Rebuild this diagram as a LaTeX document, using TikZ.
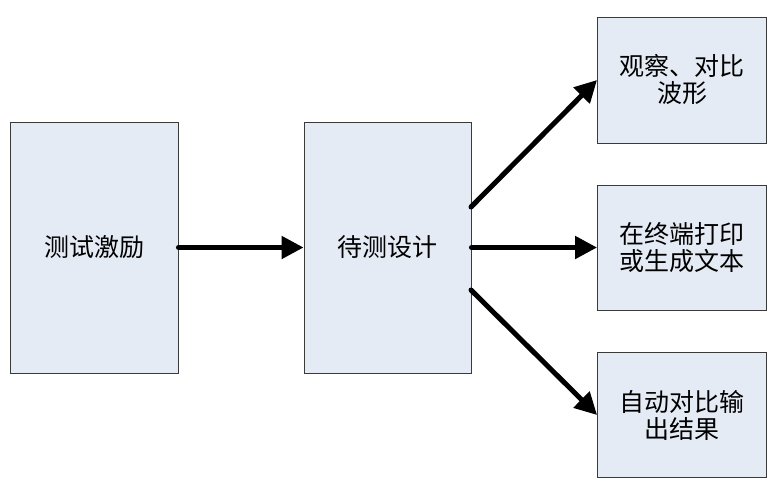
\documentclass[tikz,border=0pt]{standalone}
\usepackage{fontspec}
\setmainfont{Noto Sans CJK SC}
\usetikzlibrary{positioning,arrows.meta}
\definecolor{boxfill}{HTML}{E5EBF5}
\definecolor{boxline}{HTML}{3A3A3A}

\begin{document}
\begin{tikzpicture}[x=1pt,y=-1pt,>={Triangle[length=22pt,width=22pt]},
  blk/.style={draw=boxline,line width=0.9pt,fill=boxfill,inner sep=0pt,align=center,
    font=\fontsize{25}{27}\selectfont},
  flow/.style={->,line width=5pt,line cap=round}]
  \useasboundingbox (0,0) rectangle (770,498);
  % left column
  \node[blk,minimum width=168pt,minimum height=251pt] (stim) at (94,247.5) {测试激励};
  \node[blk,minimum width=167pt,minimum height=251pt] (dut) at (387.5,247.5) {待测设计};
  % right column
  \node[blk,minimum width=169pt,minimum height=126pt] (wave) at (682,80) {观察、对比\\波形};
  \node[blk,minimum width=169pt,minimum height=125pt] (print) at (682,247.5) {在终端打印\\或生成文本};
  \node[blk,minimum width=169pt,minimum height=125pt] (cmp) at (682,415) {自动对比输\\出结果};
  \coordinate (dutup) at (471,207);
  \coordinate (dutdn) at (471,290);
  \draw[flow] (stim.east) -- (dut.west);
  \draw[flow] (dutup) -- (wave.west);
  \draw[flow] (dut.east) -- (print.west);
  \draw[flow] (dutdn) -- (cmp.west);
\end{tikzpicture}
\end{document}
